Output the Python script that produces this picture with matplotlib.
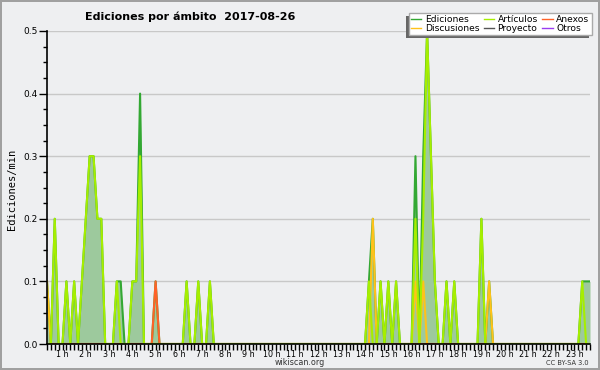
import numpy as np
import matplotlib
matplotlib.use('Agg')
import matplotlib.pyplot as plt
from matplotlib.ticker import MultipleLocator
from matplotlib.patches import Rectangle

# 10-minute slots shown on the chart: 00:20 .. 23:40
first_slot = "00:20"
last_slot = "23:40"

# non-zero slots (edits/min), everything else is 0
ediciones_t = ["00:20", "00:40", "01:10", "01:30", "01:50", "02:00", "02:10", "02:20",
               "02:30", "02:40", "03:20", "03:30", "04:00", "04:10", "04:20", "05:00",
               "06:20", "06:50", "07:20", "14:10", "14:20", "14:40", "15:00", "15:20",
               "16:10", "16:30", "16:40", "16:50", "17:00", "17:30", "17:50", "19:00",
               "19:20", "23:20", "23:30", "23:40"]
ediciones_v = [0.1, 0.2, 0.1, 0.1, 0.1, 0.2, 0.3, 0.3,
               0.2, 0.2, 0.1, 0.1, 0.1, 0.1, 0.4, 0.1,
               0.1, 0.1, 0.1, 0.1, 0.2, 0.1, 0.1, 0.1,
               0.3, 0.3, 0.5, 0.3, 0.1, 0.1, 0.1, 0.2,
               0.1, 0.1, 0.1, 0.1]

articulos_t = ["00:40", "01:10", "01:30", "01:50", "02:00", "02:10", "02:20", "02:30",
               "02:40", "03:20", "04:00", "04:10", "04:20", "06:20", "06:50", "07:20",
               "14:10", "14:40", "15:00", "15:20", "16:10", "16:30", "16:40", "16:50",
               "17:00", "17:30", "17:50", "19:00", "23:20"]
articulos_v = [0.2, 0.1, 0.1, 0.1, 0.2, 0.3, 0.3, 0.2,
               0.2, 0.1, 0.1, 0.1, 0.3, 0.1, 0.1, 0.1,
               0.1, 0.1, 0.1, 0.1, 0.2, 0.2, 0.5, 0.3,
               0.1, 0.1, 0.1, 0.2, 0.1]

discusiones_t = ["00:20", "14:20", "16:10", "16:30", "19:20"]
discusiones_v = [0.1, 0.2, 0.1, 0.1, 0.1]

anexos_t = ["05:00"]
anexos_v = [0.1]

proyecto_t, proyecto_v = [], []
otros_t, otros_v = [], []

hour_labels = [f"{h} h" for h in range(1, 24)]


def to_hours(s):
    h, m = s.split(":")
    return int(h) + int(m) / 60


n0 = int(round(to_hours(first_slot) * 6))
n1 = int(round(to_hours(last_slot) * 6))
hours = np.arange(n0, n1 + 1) / 6


def series(times, vals):
    y = np.zeros(len(hours))
    for t, v in zip(times, vals):
        y[int(round(to_hours(t) * 6)) - n0] = v
    return y


ed = series(ediciones_t, ediciones_v)
art = series(articulos_t, articulos_v)
disc = series(discusiones_t, discusiones_v)
anex = series(anexos_t, anexos_v)
proy = series(proyecto_t, proyecto_v)
otros = series(otros_t, otros_v)

bg = '#eeeff1'
fig = plt.figure(figsize=(6, 3.7), dpi=100, facecolor=bg, edgecolor='#a0a0a0', linewidth=1.5)
ax = fig.add_axes([47 / 600, 26 / 370, 543 / 600, 313 / 370])
ax.set_facecolor(bg)

ax.fill_between(hours, ed, color='#9dc99d', lw=0, zorder=1)
l_proy, = ax.plot(hours, proy, color='#555555', lw=1, zorder=2)
l_otros, = ax.plot(hours, otros, color='#9a3cf0', lw=1, zorder=2)
l_ed, = ax.plot(hours, ed, color='#33a833', lw=1.5, zorder=3)
l_disc, = ax.plot(hours, disc, color='#ffc21a', lw=1.5, zorder=4)
l_anex, = ax.plot(hours, anex, color='#ff6228', lw=1.5, zorder=4)
l_art, = ax.plot(hours, art, color='#a6ee00', lw=1.5, zorder=5)

ax.set_xlim(hours[0], hours[-1])
ax.set_ylim(0, 0.5)
for s in ['top', 'right']:
    ax.spines[s].set_visible(False)
for s in ['left', 'bottom']:
    ax.spines[s].set_zorder(10)
    ax.spines[s].set_linewidth(1.2)

ax.set_yticks([0, 0.1, 0.2, 0.3, 0.4, 0.5])
ax.set_yticklabels([f"{v:.1f}" for v in [0, 0.1, 0.2, 0.3, 0.4, 0.5]])
ax.yaxis.set_minor_locator(MultipleLocator(0.025))
ax.set_xticks(range(1, 24))
ax.set_xticklabels(hour_labels)
ax.xaxis.set_minor_locator(MultipleLocator(1 / 6))
ax.tick_params(axis='y', which='major', length=6, width=1, labelsize=6.5, pad=1)
ax.tick_params(axis='y', which='minor', length=3, width=1)
ax.tick_params(axis='x', which='both', length=4, width=1, labelsize=5.8, pad=0.5)
ax.yaxis.grid(True, color='#c8c8c8', lw=1)
ax.set_axisbelow(True)

fig.text(85 / 600, 1 - 17 / 370, "Ediciones por ámbito  2017-08-26", ha='left', va='center',
         fontsize=8, fontweight='bold')
fig.text(12 / 600, 1 - 189 / 370, "Ediciones/min", rotation=90, ha='center', va='center',
         fontsize=7.5, family='DejaVu Sans Mono')
fig.text(300 / 600, 1 - 362.5 / 370, "wikiscan.org", ha='center', va='center', fontsize=5.8,
         color='#333333')
fig.text(589 / 600, 1 - 363 / 370, "CC BY-SA 3.0", ha='right', va='center', fontsize=4.8,
         color='#333333')

handles = [l_ed, l_disc, l_art, l_proy, l_anex, l_otros]
labels = ["Ediciones", "Discusiones", "Artículos", "Proyecto", "Anexos", "Otros"]
leg = fig.legend(handles, labels, ncol=3, loc='upper right', bbox_to_anchor=(0.986, 0.966),
                 fontsize=6.6, frameon=True, fancybox=False, edgecolor='#aaaaaa',
                 facecolor='white', framealpha=1, borderpad=0.25, labelspacing=0.0,
                 handlelength=1.1, handletextpad=0.4, columnspacing=0.5, borderaxespad=0)
leg.get_frame().set_linewidth(1)
leg.set_zorder(20)
for h in leg.legend_handles:
    h.set_linewidth(1)

# drop shadow to the lower left of the legend box
fig.canvas.draw()
bb = leg.get_window_extent().transformed(fig.transFigure.inverted())
fig.patches.append(Rectangle((bb.x0 - 3 / 600, bb.y0 - 3 / 370), bb.width, bb.height,
                             transform=fig.transFigure, facecolor='#666666', lw=0, zorder=19))

fig.savefig('out.png', dpi=100, facecolor=bg, edgecolor='#a0a0a0')
